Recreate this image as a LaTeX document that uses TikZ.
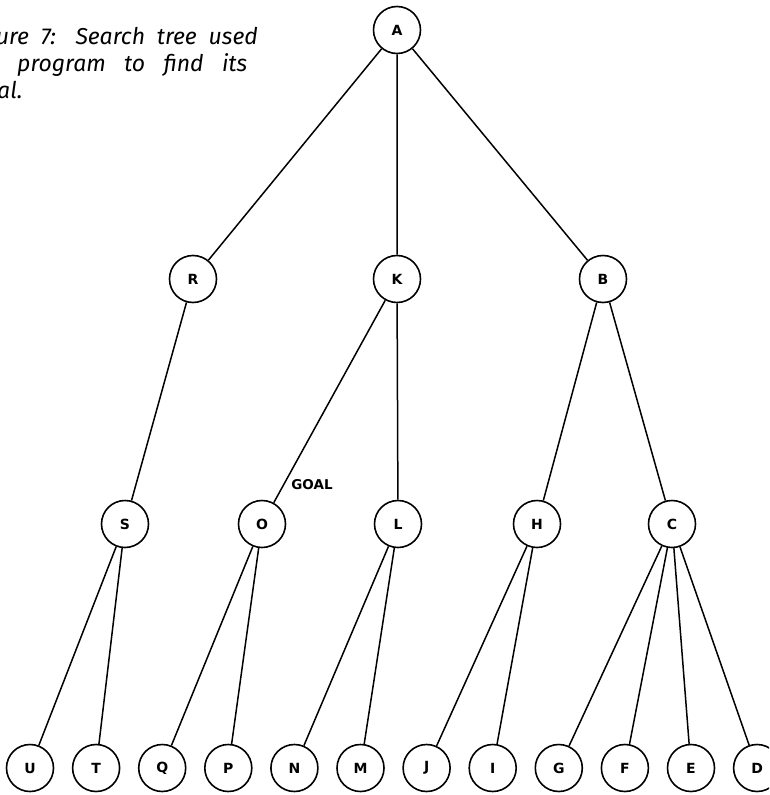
\documentclass[tikz,border=0pt]{standalone}
\usepackage{fontspec}
\newfontfamily\lblfont{DejaVu Sans}
\newfontfamily\capfont{Fira Sans}
\usetikzlibrary{positioning}
\tikzset{
  vtx/.style={circle,draw,line width=1.6pt,minimum size=47pt,inner sep=0pt,
    font=\lblfont\bfseries\fontsize{14}{14}\selectfont},
  lnk/.style={line width=1.5pt},
  capline/.style={inner sep=0pt,font=\capfont\itshape\fontsize{23}{23}\selectfont},
  tag/.style={inner sep=0pt,font=\lblfont\bfseries\fontsize{13.5}{13.5}\selectfont},
}

\begin{document}
\begin{tikzpicture}[x=1pt,y=-1pt]
  \useasboundingbox (0,0) rectangle (769,795);
  \clip (0,0) rectangle (769,795);
  % caption, cut off at the left edge
  \node[capline,anchor=base east] (cap1) at (258,44) {\makebox[262pt][s]{ure 7: Search tree used}};
  \node[capline,anchor=base west] (cap2) at (17,71) {\makebox[230pt][s]{program to find its}};
  \node[capline,anchor=base west] (cap3) at (-3,98) {al.};
  % root and inner levels
  \node[vtx] (A) at (397,30) {A};
  \node[vtx] (R) at (193,279) {R};
  \node[vtx] (K) at (397,279) {K};
  \node[vtx] (B) at (603,279) {B};
  \node[vtx] (S) at (125,524) {S};
  \node[vtx] (O) at (262,524) {O};
  \node[vtx] (L) at (398,524) {L};
  \node[vtx] (H) at (537,524) {H};
  \node[vtx] (C) at (672,524) {C};
  % leaves
  \node[vtx] (U) at (30,768) {U};
  \node[vtx,right=17.5pt of U] (T) {T};
  \node[vtx,right=17.5pt of T] (Q) {Q};
  \node[vtx,right=17.5pt of Q] (P) {P};
  \node[vtx,right=17.5pt of P] (N) {N};
  \node[vtx,right=17.5pt of N] (M) {M};
  \node[vtx,right=17.5pt of M] (J) {J};
  \node[vtx,right=17.5pt of J] (I) {I};
  \node[vtx,right=17.5pt of I] (G) {G};
  \node[vtx,right=17.5pt of G] (F) {F};
  \node[vtx,right=17.5pt of F] (E) {E};
  \node[vtx,right=17.5pt of E] (D) {D};
  % branches
  \draw[lnk] (A) -- (R) (A) -- (K) (A) -- (B);
  \draw[lnk] (R) -- (S) (K) -- (O) (K) -- (L) (B) -- (H) (B) -- (C);
  \draw[lnk] (S) -- (U) (S) -- (T) (O) -- (Q) (O) -- (P) (L) -- (N) (L) -- (M);
  \draw[lnk] (H) -- (J) (H) -- (I) (C) -- (G) (C) -- (F) (C) -- (E) (C) -- (D);
  \node[tag] (goal) at (312,485) {GOAL};
\end{tikzpicture}
\end{document}
